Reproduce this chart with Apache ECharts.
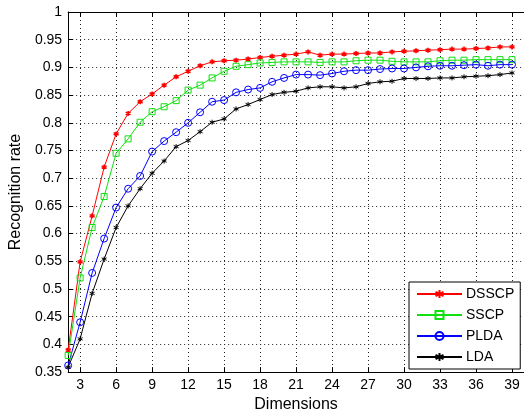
<!DOCTYPE html>
<html>
<head>
<meta charset="utf-8">
<script src="https://cdn.jsdelivr.net/npm/echarts@6/dist/echarts.min.js"></script>
<style>html,body{margin:0;padding:0;background:#fff;}#c{width:524px;height:418px;}</style>
</head>
<body>
<div id="c"></div>
<script>
const dims = [2,3,4,5,6,7,8,9,10,11,12,13,14,15,16,17,18,19,20,21,22,23,24,25,26,27,28,29,30,31,32,33,34,35,36,37,38,39];
const xTicks = [3,6,9,12,15,18,21,24,27,30,33,36,39];
const dsscp = [0.390,0.549,0.632,0.720,0.780,0.817,0.838,0.852,0.868,0.883,0.893,0.903,0.910,0.912,0.913,0.915,0.918,0.920,0.922,0.924,0.928,0.922,0.924,0.924,0.925,0.926,0.926,0.928,0.929,0.930,0.931,0.932,0.933,0.933,0.934,0.935,0.937,0.937];
const sscp = [0.380,0.520,0.611,0.667,0.745,0.771,0.801,0.820,0.829,0.840,0.859,0.868,0.881,0.893,0.902,0.905,0.908,0.909,0.910,0.910,0.910,0.909,0.910,0.910,0.912,0.913,0.913,0.911,0.910,0.910,0.910,0.912,0.913,0.913,0.914,0.914,0.914,0.914];
const plda = [0.362,0.440,0.529,0.591,0.647,0.681,0.704,0.748,0.767,0.783,0.800,0.819,0.838,0.841,0.855,0.860,0.863,0.874,0.881,0.887,0.887,0.886,0.889,0.893,0.895,0.895,0.897,0.898,0.898,0.900,0.902,0.903,0.903,0.904,0.905,0.903,0.905,0.905];
const lda = [0.359,0.410,0.492,0.554,0.611,0.650,0.681,0.709,0.731,0.757,0.768,0.784,0.801,0.807,0.825,0.833,0.842,0.851,0.855,0.857,0.863,0.865,0.865,0.863,0.865,0.871,0.874,0.875,0.880,0.880,0.880,0.881,0.881,0.883,0.884,0.885,0.887,0.890];

const pairs = arr => dims.map((d, i) => [d, arr[i]]);
const star = 'path://M0,-5L0,5M-4.33,-2.5L4.33,2.5M-4.33,2.5L4.33,-2.5';
const font = 'Liberation Sans, Arial, sans-serif';

const chart = echarts.init(document.getElementById('c'), null, {renderer: 'canvas'});
const axisLineStyle = {color: '#000', width: 1};
chart.setOption({
  animation: false,
  backgroundColor: '#fff',
  grid: {left: 64, right: -2, top: 12, bottom: 43, containLabel: false},
  xAxis: [{
    type: 'value', min: 2, max: 40, position: 'bottom',
    name: 'Dimensions', nameLocation: 'middle', nameGap: 22,
    nameTextStyle: {fontFamily: font, fontSize: 16, color: '#000'},
    axisLine: {show: true, onZero: false, lineStyle: axisLineStyle},
    axisTick: {show: true, inside: true, length: 5, customValues: xTicks, lineStyle: axisLineStyle},
    axisLabel: {customValues: xTicks, fontFamily: font, fontSize: 14, color: '#000', margin: 6},
    splitLine: {show: true, lineStyle: {color: '#222', type: [1, 3], width: 1}}
  }, {
    type: 'value', min: 2, max: 40, position: 'top',
    axisLine: {show: true, onZero: false, lineStyle: axisLineStyle},
    axisTick: {show: true, inside: true, length: 5, customValues: xTicks, lineStyle: axisLineStyle},
    axisLabel: {show: false},
    splitLine: {show: false}
  }],
  yAxis: [{
    type: 'value', min: 0.35, max: 1, interval: 0.05, position: 'left',
    name: 'Recognition rate', nameLocation: 'middle', nameGap: 38, nameRotate: 90,
    nameTextStyle: {fontFamily: font, fontSize: 16, color: '#000'},
    axisLine: {show: true, onZero: false, lineStyle: axisLineStyle},
    axisTick: {show: true, inside: true, length: 5, lineStyle: axisLineStyle},
    axisLabel: {fontFamily: font, fontSize: 14, color: '#000', margin: 6,
      formatter: v => String(Math.round(v * 100) / 100)},
    splitLine: {show: true, lineStyle: {color: '#222', type: [1, 3], width: 1}}
  }],
  legend: {
    orient: 'vertical', left: 409, top: 282,
    backgroundColor: '#fff', borderColor: '#000', borderWidth: 1,
    padding: [5, 6, 5, 7], itemWidth: 45, itemHeight: 10, itemGap: 7,
    textStyle: {fontFamily: font, fontSize: 14, color: '#000', padding: [0, 0, 0, -1]},
    data: ['DSSCP', 'SSCP', 'PLDA', 'LDA']
  },
  series: [
    {name: 'DSSCP', type: 'line', data: pairs(dsscp), symbol: star, symbolSize: 5,
      lineStyle: {color: '#ff0000', width: 1}, itemStyle: {color: '#ff0000', borderColor: '#ff0000', borderWidth: 1.6}},
    {name: 'SSCP', type: 'line', data: pairs(sscp), symbol: 'rect', symbolSize: 6,
      lineStyle: {color: '#10e010', width: 1}, itemStyle: {color: 'rgba(255,255,255,0)', borderColor: '#10e010', borderWidth: 1}},
    {name: 'PLDA', type: 'line', data: pairs(plda), symbol: 'circle', symbolSize: 7,
      lineStyle: {color: '#0000ff', width: 1}, itemStyle: {color: 'rgba(255,255,255,0)', borderColor: '#0000ff', borderWidth: 1}},
    {name: 'LDA', type: 'line', data: pairs(lda), symbol: star, symbolSize: 5,
      lineStyle: {color: '#000', width: 1}, itemStyle: {color: '#000', borderColor: '#000', borderWidth: 1}}
  ]
});
</script>
</body>
</html>
